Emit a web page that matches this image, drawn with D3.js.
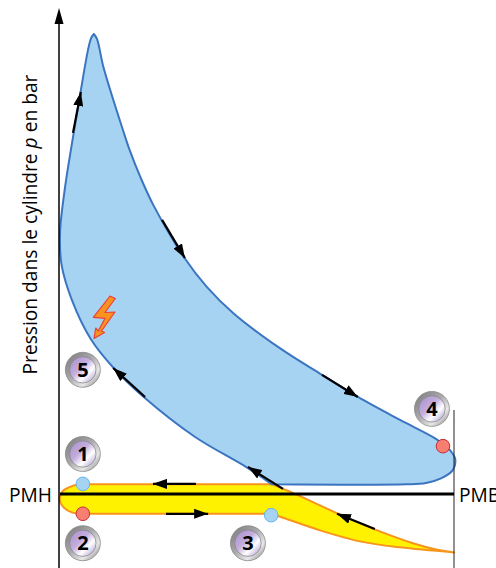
<!DOCTYPE html>
<html>
<head>
<meta charset="utf-8">
<script src="https://cdn.jsdelivr.net/npm/d3@7"></script>
<style>
html,body{margin:0;padding:0;background:#fff;overflow:hidden}
text{font-family:"Open Sans",sans-serif}
</style>
</head>
<body>
<div id="chart"></div>
<script>
// values: volume in % of stroke (PMH=0, PMB=100), pressure in relative units
const expansion = [[8.6,100],[9.4,98.9],[11,92.9],[16.1,78.8],[17.5,75.2],[20.3,69.1],[23.7,62.8],[31.7,51.2],[37.2,45.1],[44,39.3],[55.8,31.7],[66.5,25.9],[75.6,21.1],[86.3,16.1],[95.4,12],[98.7,9.8],[100.3,7.6],[99.7,5.2],[96.7,3.4],[92.9,2.4],[87.8,2.1],[53.8,2.1]];
const compression = [[53.8,2.1],[47.4,5.8],[34.3,12.4],[21.1,21.2],[13.5,27.5],[7.8,33.7],[3,42.2],[0.4,49.8],[0,56.7],[1.3,66.8],[3.6,79.1],[5.3,87.8],[7.1,96.5],[7.9,99.1],[8.6,100]];
const exhaustTop = [[53.8,2.1],[5.6,2.1]];
const nose = [[5.6,2.1],[3,1.7],[0.8,0.7],[-0.1,-1.1],[0.8,-2.8],[3,-4],[5.6,-4.3]];
const intakeFlat = [[5.6,-4.3],[53.6,-4.3]];
const intake = [[53.6,-4.3],[56.1,-5],[66,-7.9],[76.1,-10.3],[86.3,-11.6],[100,-12.7]];
const intakeBack = [[100,-12.7],[95.2,-12],[89.6,-10.7],[80.2,-7.8],[70.1,-4.1],[58.4,0.5],[53.8,2.1]];
const arrows = [[3.3,78.5,5.3,87.4],[25.9,59.6,31.7,51.3],[66.5,25.9,75.6,21.1],[21.6,21.1,13.5,27.4],[56.6,1.1,47.7,5.9],[79.9,-7.6,70.3,-4.3],[34.5,2.2,23.6,2.2],[26.9,-4.3,37.6,-4.3]];
const badges = [["1",5.8,8.7],["2",5.8,-10.7],["3",47.7,-10.7],["4",94.4,18.5],["5",5.8,27]];
const redDots = [[5.8,-4.3],[97.2,10.4]];
const blueDots = [[5.8,2.2],[53.6,-4.6]];
const leftLabel = "PMH", rightLabel = "PMB";

const width = 496, height = 568;
const x = d3.scaleLinear().domain([0,100]).range([60,454]);
const y = d3.scaleLinear().domain([0,100]).range([494,34]);

const svg = d3.select("#chart").append("svg")
    .attr("width",width)
    .attr("height",height)
    .style("display","block");

const defs = svg.append("defs");
defs.append("marker").attr("id","head")
    .attr("markerUnits","userSpaceOnUse")
    .attr("viewBox","0 0 14 10")
    .attr("refX",14).attr("refY",5)
    .attr("markerWidth",14).attr("markerHeight",10)
    .attr("orient","auto")
    .append("path").attr("d","M0,0L14,5L0,10Z").attr("fill","#000");

let ring = defs.append("linearGradient").attr("id","ring")
    .attr("x1","0").attr("y1","0").attr("x2","1").attr("y2","1");
ring.append("stop").attr("offset","0").attr("stop-color","#77777a");
ring.append("stop").attr("offset","0.45").attr("stop-color","#a9a9ac");
ring.append("stop").attr("offset","0.72").attr("stop-color","#e8e8e8");
ring.append("stop").attr("offset","1").attr("stop-color","#717174");

let disc = defs.append("linearGradient").attr("id","disc")
    .attr("x1","0").attr("y1","0").attr("x2","1").attr("y2","1");
disc.append("stop").attr("offset","0").attr("stop-color","#a98ecd");
disc.append("stop").attr("offset","0.42").attr("stop-color","#c3aedd");
disc.append("stop").attr("offset","0.66").attr("stop-color","#ffffff");
disc.append("stop").attr("offset","1").attr("stop-color","#a288c8");

const line = d3.line().x(d => x(d[0])).y(d => y(d[1])).curve(d3.curveCatmullRom.alpha(0.5));
const joined = (...parts) => parts.map((p,i) => i ? line(p).replace("M","L") : line(p)).join("") + "Z";

// yellow intake / exhaust loop
svg.append("path")
    .attr("d",joined(exhaustTop,nose,intakeFlat,intake,intakeBack))
    .attr("fill","#fff200")
    .attr("stroke","#f7941d")
    .attr("stroke-width",2)
    .attr("stroke-linejoin","round");

// blue work loop
svg.append("path")
    .attr("d",joined(expansion,compression))
    .attr("fill","#a6d3f1")
    .attr("stroke","#3b75c2")
    .attr("stroke-width",2)
    .attr("stroke-linejoin","round");

// axes
svg.append("line").attr("x1",59).attr("x2",59).attr("y1",568).attr("y2",22).attr("stroke","#000").attr("stroke-width",1.5);
svg.append("path").attr("d","M59,8L63.5,24L54.5,24Z").attr("fill","#000");
svg.append("line").attr("x1",x(100)).attr("x2",x(100)).attr("y1",410).attr("y2",568).attr("stroke","#222").attr("stroke-width",1);
svg.append("line").attr("x1",x(0)).attr("x2",x(100)).attr("y1",y(0)).attr("y2",y(0)).attr("stroke","#000").attr("stroke-width",3);

svg.append("text").attr("x",52).attr("y",501.5).attr("text-anchor","end").attr("font-size",19.2).text(leftLabel);
svg.append("text").attr("x",459).attr("y",501.5).attr("font-size",19.2).text(rightLabel);

let ylab = svg.append("text")
    .attr("transform","translate(37,224.5) rotate(-90)")
    .attr("text-anchor","middle")
    .attr("font-size",19.2);
ylab.append("tspan").text("Pression dans le cylindre ");
ylab.append("tspan").attr("font-style","italic").text("p");
ylab.append("tspan").text(" en bar");

// direction arrows
svg.selectAll(".arrow").data(arrows).enter().append("line")
    .attr("class","arrow")
    .attr("x1",d => x(d[0])).attr("y1",d => y(d[1]))
    .attr("x2",d => x(d[2])).attr("y2",d => y(d[3]))
    .attr("stroke","#000").attr("stroke-width",2.2)
    .attr("marker-end","url(#head)");

// state dots
svg.selectAll(".red").data(redDots).enter().append("circle")
    .attr("class","red")
    .attr("cx",d => x(d[0])).attr("cy",d => y(d[1])).attr("r",6.8)
    .attr("fill","#f67f6f").attr("stroke","#c9283c").attr("stroke-width",1);
svg.selectAll(".blue").data(blueDots).enter().append("circle")
    .attr("class","blue")
    .attr("cx",d => x(d[0])).attr("cy",d => y(d[1])).attr("r",6.8)
    .attr("fill","#a6d3f1").attr("stroke","#62b5ec").attr("stroke-width",1);

// spark
svg.append("path")
    .attr("d","M110,296L115.3,298.5L105,312.5L115,312L101.5,331L104.5,332.5L94,338.5L95.7,328L98.3,331L105,318.3L93.3,317.3Z")
    .attr("fill","#f7931e").attr("stroke","#ee3f3a").attr("stroke-width",1.2).attr("stroke-linejoin","round");

// numbered badges
let badge = svg.selectAll(".badge").data(badges).enter().append("g")
    .attr("class","badge")
    .attr("transform",d => `translate(${x(d[1])},${y(d[2])})`);
badge.append("circle").attr("r",17.5).attr("fill","url(#ring)").attr("stroke","#8a8a8c").attr("stroke-width",0.8);
badge.append("circle").attr("r",13.2).attr("fill","url(#disc)").attr("stroke","#7f7f82").attr("stroke-width",0.7);
badge.append("text").attr("y",7).attr("text-anchor","middle")
    .attr("font-size",20).attr("font-weight",700).attr("fill","#000")
    .text(d => d[0]);
</script>
</body>
</html>
